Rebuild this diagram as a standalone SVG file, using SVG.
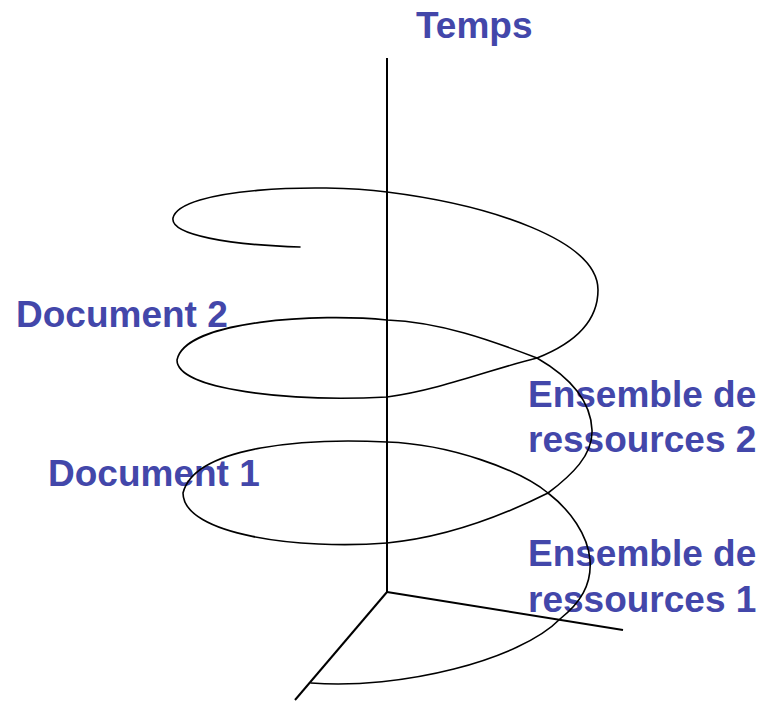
<svg xmlns="http://www.w3.org/2000/svg" width="765" height="701" viewBox="0 0 765 701">
<style>
.lbl{font-family:"Liberation Sans",Arial,sans-serif;font-weight:bold;font-size:37px;fill:#4347aa}
.axis{stroke:#000;stroke-width:2;fill:none}
.spiral{stroke:#000;stroke-width:1.6;fill:none;stroke-linecap:round;stroke-linejoin:round}
</style>
<rect width="765" height="701" fill="#fff"/>
<g id="temps"><text class="lbl" x="416" y="38">Temps</text></g>
<g id="document2"><text class="lbl" x="16" y="327">Document 2</text></g>
<g id="document1"><text class="lbl" x="48" y="486">Document 1</text></g>
<g id="ressources2"><text class="lbl" x="528" y="407">Ensemble de</text><text class="lbl" x="528" y="452">ressources 2</text></g>
<g id="ressources1"><text class="lbl" x="528" y="566">Ensemble de</text><text class="lbl" x="528" y="612">ressources 1</text></g>
<g id="connectors">
<line class="axis" x1="387" y1="58" x2="387" y2="592"/>
<line class="axis" x1="387" y1="592" x2="623" y2="630"/>
<line class="axis" x1="387" y1="592" x2="295" y2="700"/>
<path class="spiral" d="M311,683 C400,690 520,660 560,619 C580,603 592,585 590,560 C588,535 570,510 548,493 C520,470 450,444 387,442 C310,438 195,445 183,493 C183,535 300,550 387,543 C450,537 510,512 548,493 C572,475 593,455 592,430 C591,405 575,380 537,358 C490,340 440,322 387,320 C320,313 185,320 177,360 C177,390 290,402 387,397 C440,390 495,368 537,358 C570,345 598,325 598,290 C598,240 490,205 387,192 C320,183 180,188 173,218 C170,235 230,245 300,247"/>
</g>
</svg>
